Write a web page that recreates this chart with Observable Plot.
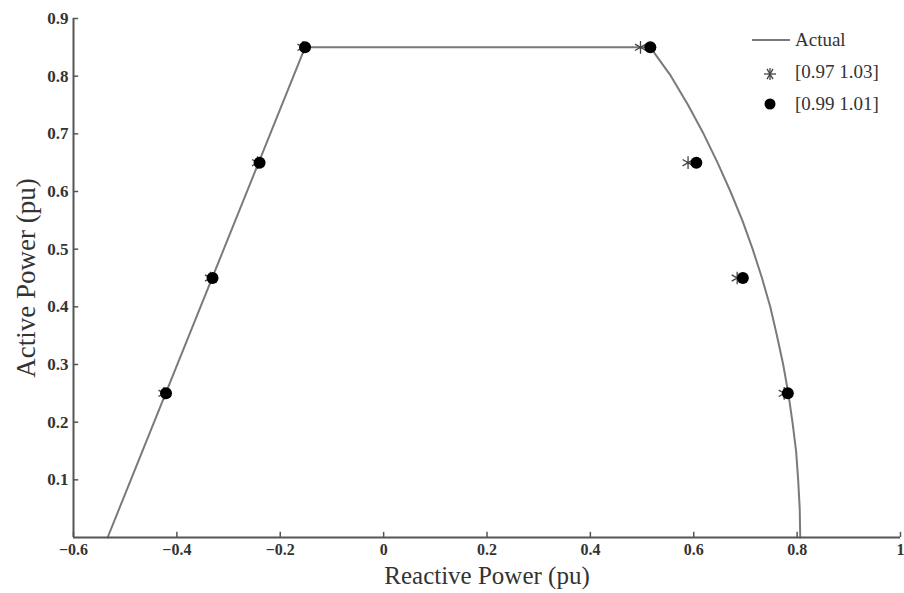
<!DOCTYPE html>
<html><head><meta charset="utf-8">
<script src="https://cdn.jsdelivr.net/npm/d3@7"></script>
<script src="https://cdn.jsdelivr.net/npm/@observablehq/plot@0.6"></script>
<style>
body{margin:0;background:#fff}
#wrap{position:relative;width:904px;height:593px;overflow:hidden}
#legend{position:absolute;left:740px;top:22px}
</style>
</head><body><div id="wrap"></div>
<script>
// "Actual" capability curve (Reactive Q, Active P)
const actualQ = [-0.534, -0.152, 0.516, 0.556, 0.589, 0.619, 0.646, 0.671, 0.694, 0.714, 0.732, 0.748, 0.761, 0.773, 0.783, 0.791, 0.798, 0.802, 0.805, 0.806];
const actualP = [0, 0.85, 0.85, 0.8, 0.75, 0.7, 0.65, 0.6, 0.55, 0.5, 0.45, 0.4, 0.35, 0.3, 0.25, 0.2, 0.15, 0.1, 0.05, 0];
// estimated points
const pointP = [0.25, 0.45, 0.65, 0.85, 0.85, 0.65, 0.45, 0.25];
const starQ = [-0.425, -0.335, -0.244, -0.156, 0.497, 0.589, 0.684, 0.775];
const dotQ  = [-0.421, -0.331, -0.240, -0.152, 0.516, 0.605, 0.695, 0.782];
const xTicks = [-0.6, -0.4, -0.2, 0, 0.2, 0.4, 0.6, 0.8, 1];
const yTicks = [0.1, 0.2, 0.3, 0.4, 0.5, 0.6, 0.7, 0.8, 0.9];
const legendLabels = ["Actual", "[0.97 1.03]", "[0.99 1.01]"];

const actual = actualQ.map((q, i) => ({q, p: actualP[i]}));
const stars = starQ.map((q, i) => ({q, p: pointP[i]}));
const dots = dotQ.map((q, i) => ({q, p: pointP[i]}));

const font = "'Liberation Serif', 'DejaVu Serif', serif";
const fmt = d => (d < 0 ? "\u2212" : "") + String(Math.abs(d));

const chart = Plot.plot({
  width: 904,
  height: 593,
  marginLeft: 73,
  marginRight: 4,
  marginTop: 18,
  marginBottom: 56,
  style: {fontFamily: font, fontSize: "16px", color: "#222", background: "#fff"},
  x: {domain: [-0.6, 1], label: null},
  y: {domain: [0, 0.9], label: null},
  marks: [
    Plot.line(actual, {x: "q", y: "p", stroke: "#7a7a7a", strokeWidth: 2}),
    Plot.dot(stars, {x: "q", y: "p", symbol: "asterisk", r: 6, stroke: "#444", strokeWidth: 1.3}),
    Plot.dot(dots, {x: "q", y: "p", r: 6, fill: "#000", stroke: "none"}),
    Plot.ruleY([0], {stroke: "#555", strokeWidth: 2}),
    Plot.ruleX([-0.6], {stroke: "#555", strokeWidth: 2}),
    Plot.axisX(xTicks, {tickSize: 0, tickPadding: 6, tickFormat: fmt, fontSize: 16, fill: "#333", fontWeight: "bold", label: null}),
    Plot.ruleX(xTicks, {x: d => d, y1: 0, y2: 0.009, stroke: "#555", strokeWidth: 1.5}),
    Plot.axisY(yTicks, {tickSize: 0, tickPadding: 5, tickFormat: fmt, fontSize: 17, fill: "#333", fontWeight: "bold", label: null}),
    Plot.ruleY(yTicks, {y: d => d, x1: -0.6, x2: -0.59, stroke: "#555", strokeWidth: 1.5}),
    Plot.text(["Reactive Power (pu)"], {frameAnchor: "bottom", dy: 46, fontSize: 25, fill: "#333"}),
    Plot.text(["Active Power (pu)"], {frameAnchor: "left", textAnchor: "middle", dx: -47, rotate: -90, fontSize: 27, fill: "#333"})
  ]
});
document.getElementById("wrap").appendChild(chart);

// legend
const leg = d3.select("#wrap").append("svg").attr("id", "legend")
  .attr("width", 164).attr("height", 100)
  .style("font-family", font).style("font-size", "19px");
leg.append("line").attr("x1", 12).attr("x2", 50).attr("y1", 18).attr("y2", 18)
  .attr("stroke", "#7a7a7a").attr("stroke-width", 2);
const star = leg.append("g").attr("transform", "translate(30,52)");
for (let a = 0; a < 180; a += 60) {
  const r = 6, t = a * Math.PI / 180;
  star.append("line").attr("x1", -r * Math.cos(t)).attr("y1", -r * Math.sin(t))
    .attr("x2", r * Math.cos(t)).attr("y2", r * Math.sin(t))
    .attr("stroke", "#444").attr("stroke-width", 1.3);
}
star.append("line").attr("x1", 0).attr("x2", 0).attr("y1", -6).attr("y2", 6)
  .attr("stroke", "#444").attr("stroke-width", 1.3);
leg.append("circle").attr("cx", 30).attr("cy", 82).attr("r", 5.5).attr("fill", "#000");
legendLabels.forEach((t, i) => {
  leg.append("text").attr("x", 55).attr("y", 24 + i * 32).attr("fill", "#333").text(t);
});
</script>
</body></html>
